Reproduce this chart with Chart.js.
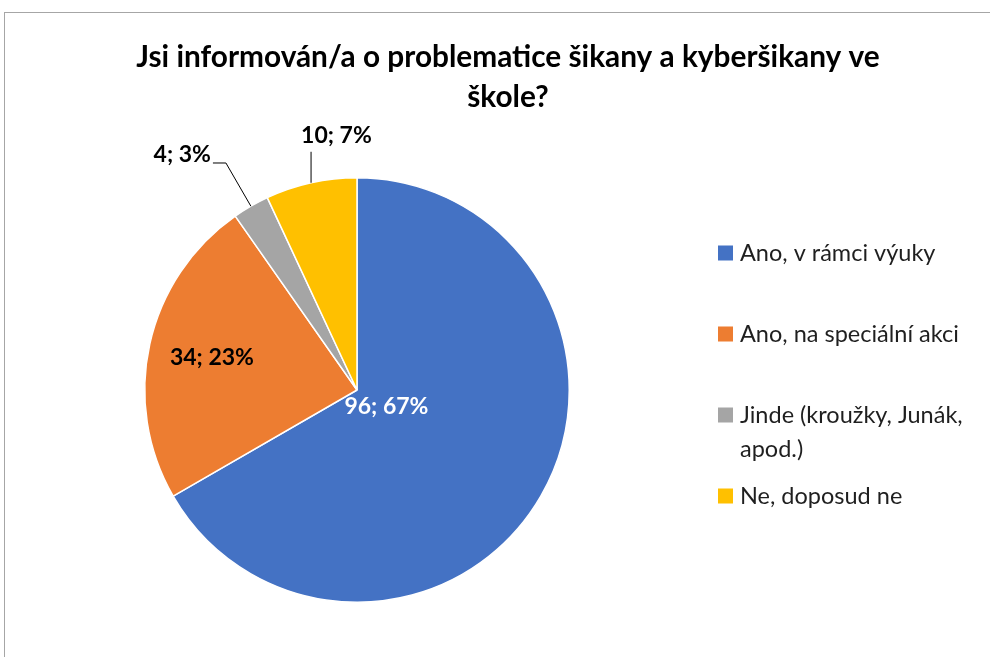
<!DOCTYPE html>
<html>
<head>
<meta charset="utf-8">
<title>Jsi informován/a o problematice šikany a kyberšikany ve škole?</title>
<script src="https://cdn.jsdelivr.net/npm/chart.js"></script>
<style>
  html, body { margin: 0; padding: 0; background: #fff; overflow: hidden; }
  .frame {
    position: absolute;
    left: 4px;
    top: 12px;
    width: 1006px;
    height: 660px;
    border: 1px solid #a6a6a6;
  }
  canvas { display: block; }
</style>
</head>
<body>
<div class="frame"><canvas id="chart" width="1006" height="660"></canvas></div>
<script>
const titleLines = ['Jsi informován/a o problematice šikany a kyberšikany ve', 'škole?'];
const categories = ['Ano, v rámci výuky', 'Ano, na speciální akci', 'Jinde (kroužky, Junák, apod.)', 'Ne, doposud ne'];
const legendLines = [['Ano, v rámci výuky'], ['Ano, na speciální akci'], ['Jinde (kroužky, Junák,', 'apod.)'], ['Ne, doposud ne']];
const counts = [96, 34, 4, 10];
const percents = ['67%', '23%', '3%', '7%'];
const colors = ['#4472C4', '#ED7D31', '#A5A5A5', '#FFC000'];

const FONT = 'Lato, "Open Sans", sans-serif';

// how each data label sits relative to its slice
const labelStyle = [
  { inside: true, r: 0.16, color: '#ffffff' },
  { inside: true, r: 0.70, color: '#000000' },
  { inside: false, leader: 'radial', color: '#000000' },
  { inside: false, leader: 'up', color: '#000000' }
];

const titlePlugin = {
  id: 'titleLines',
  afterDraw(chart) {
    const ctx = chart.ctx;
    ctx.save();
    ctx.fillStyle = '#000';
    ctx.font = 'bold 29.8px ' + FONT;
    ctx.textAlign = 'center';
    ctx.textBaseline = 'middle';
    titleLines.forEach((line, i) => ctx.fillText(line, 503, 44 + i * 40));
    ctx.restore();
  }
};

const sliceLabels = {
  id: 'sliceLabels',
  afterDatasetsDraw(chart) {
    const ctx = chart.ctx;
    const meta = chart.getDatasetMeta(0);
    ctx.save();
    ctx.font = 'bold 23px ' + FONT;
    ctx.textBaseline = 'middle';
    meta.data.forEach((arc, i) => {
      const p = arc.getProps(['x', 'y', 'startAngle', 'endAngle', 'outerRadius'], true);
      const mid = (p.startAngle + p.endAngle) / 2;
      const dx = Math.cos(mid), dy = Math.sin(mid);
      const text = counts[i] + '; ' + percents[i];
      const st = labelStyle[i];
      ctx.fillStyle = st.color;
      if (st.inside) {
        ctx.textAlign = 'center';
        ctx.fillText(text, p.x + dx * p.outerRadius * st.r, p.y + dy * p.outerRadius * st.r);
        return;
      }
      const ex = p.x + dx * p.outerRadius, ey = p.y + dy * p.outerRadius;
      ctx.strokeStyle = '#000';
      ctx.lineWidth = 1;
      ctx.beginPath();
      ctx.moveTo(ex, ey);
      if (st.leader === 'radial') {
        const bx = p.x + dx * p.outerRadius * 1.235, by = p.y + dy * p.outerRadius * 1.235;
        ctx.lineTo(bx, by);
        ctx.lineTo(bx - 13, by);
        ctx.stroke();
        ctx.textAlign = 'right';
        ctx.fillText(text, bx - 15, by - 8);
      } else {
        const ty = ey - 31;
        ctx.lineTo(ex, ty);
        ctx.stroke();
        ctx.textAlign = 'left';
        ctx.fillText(text, ex - 10, ty - 16);
      }
    });
    ctx.restore();
  }
};

const legendPlugin = {
  id: 'sideLegend',
  afterDraw(chart) {
    const ctx = chart.ctx;
    ctx.save();
    ctx.font = '23.5px ' + FONT;
    ctx.textBaseline = 'middle';
    ctx.textAlign = 'left';
    legendLines.forEach((lines, i) => {
      const y = 240 + i * 81;
      ctx.fillStyle = colors[i];
      ctx.fillRect(713, y - 7.5, 15, 15);
      ctx.fillStyle = '#1f1f1f';
      lines.forEach((line, k) => ctx.fillText(line, 735, y + k * 34));
    });
    ctx.restore();
  }
};

new Chart(document.getElementById('chart'), {
  type: 'pie',
  data: {
    labels: categories,
    datasets: [{
      data: counts,
      backgroundColor: colors,
      borderColor: '#ffffff',
      borderWidth: 1.5
    }]
  },
  options: {
    responsive: false,
    animation: false,
    layout: { padding: { left: 139, top: 164, right: 441, bottom: 70 } },
    plugins: {
      legend: { display: false },
      title: { display: false },
      tooltip: { enabled: false }
    }
  },
  plugins: [titlePlugin, sliceLabels, legendPlugin]
});
</script>
</body>
</html>
